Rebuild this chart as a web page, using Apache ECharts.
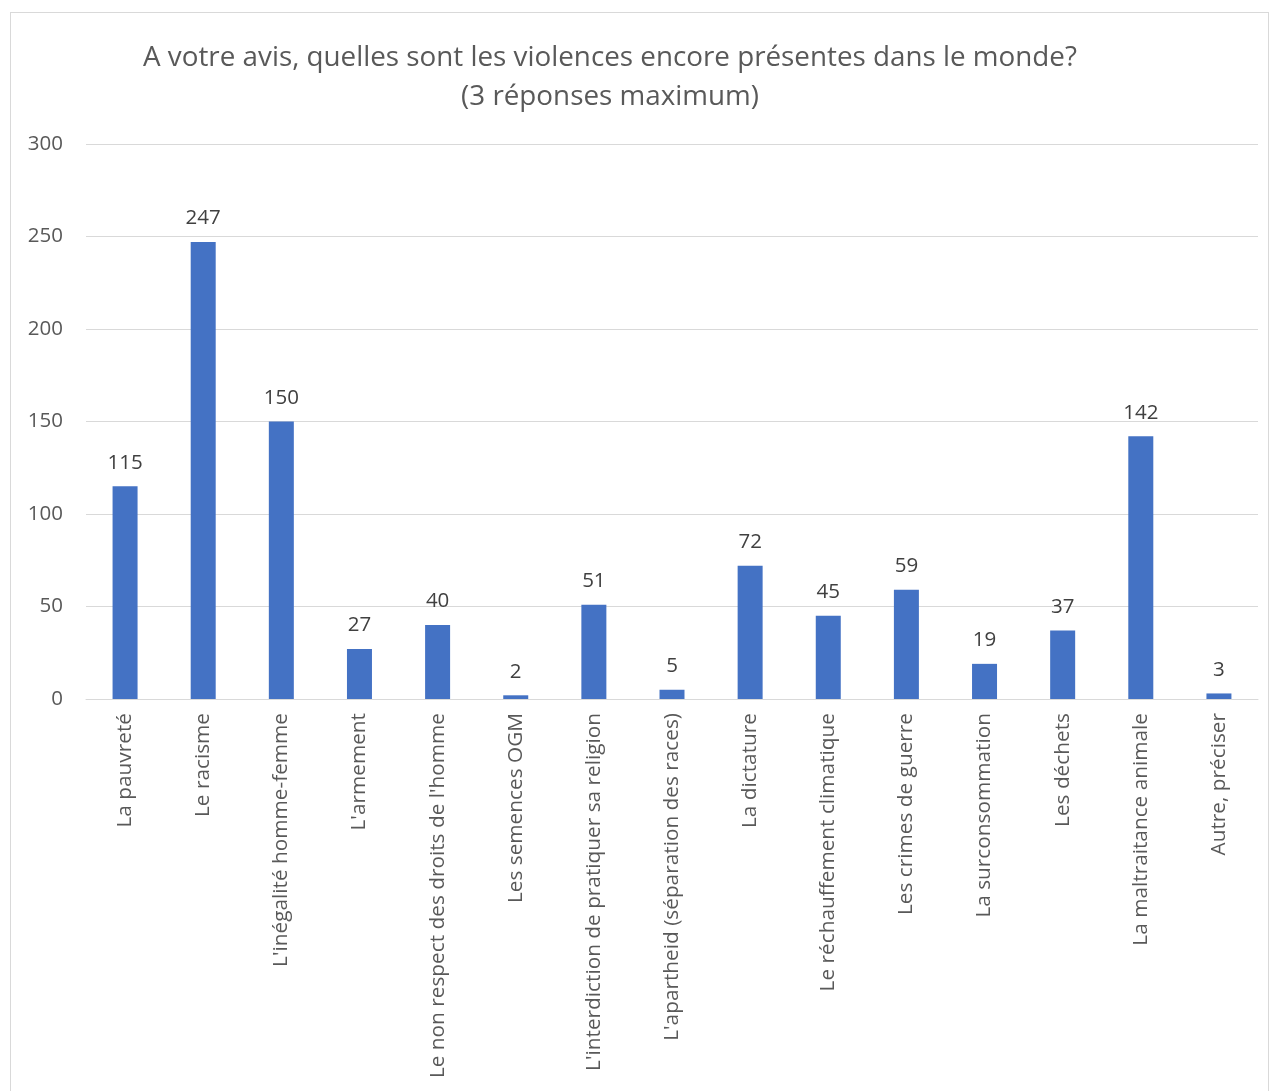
<!DOCTYPE html>
<html><head><meta charset="utf-8">
<script src="https://cdn.jsdelivr.net/npm/echarts@6/dist/echarts.min.js"></script>
<style>
html,body{margin:0;padding:0;background:#fff;}
#frame{position:absolute;left:10px;top:12px;width:1259px;height:1100px;border:1px solid #d9d9d9;box-sizing:border-box;}
#c{position:absolute;left:0;top:0;width:1276px;height:1091px;}
</style></head>
<body>
<div id="frame"></div>
<div id="c"></div>
<script>
const categories = ["La pauvreté","Le racisme","L'inégalité homme-femme","L'armement","Le non respect des droits de l'homme","Les semences OGM","L'interdiction de pratiquer sa religion","L'apartheid (séparation des races)","La dictature","Le réchauffement climatique","Les crimes de guerre","La surconsommation","Les déchets","La maltraitance animale","Autre, préciser"];
const values = [115,247,150,27,40,2,51,5,72,45,59,19,37,142,3];
const titleText = "A votre avis, quelles sont les violences encore présentes dans le monde?\n(3 réponses maximum)";
const font = "'Open Sans', sans-serif";
const chart = echarts.init(document.getElementById('c'));
chart.setOption({
  animation:false,
  title:{text:titleText,left:605,textAlign:'center',top:34,
    textStyle:{fontFamily:font,fontSize:27.8,fontWeight:'normal',color:'#595959',lineHeight:39}},
  grid:{left:86,right:18,top:144,bottom:392,containLabel:false},
  xAxis:{type:'category',data:categories,
    axisLine:{lineStyle:{color:'#d9d9d9',width:1}},
    axisTick:{show:false},
    axisLabel:{rotate:90,interval:0,fontFamily:font,fontSize:20.8,color:'#595959',margin:14}},
  yAxis:{type:'value',min:0,max:300,interval:50,
    axisLine:{show:false},axisTick:{show:false},
    splitLine:{lineStyle:{color:'#d9d9d9',width:1}},
    axisLabel:{fontFamily:font,fontSize:20.5,color:'#595959',margin:23}},
  series:[{type:'bar',data:values,barWidth:25,
    itemStyle:{color:'#4472c4'},
    label:{show:true,position:'top',distance:13,fontFamily:font,fontSize:20.5,color:'#404040'}}]
});
</script>
</body></html>
